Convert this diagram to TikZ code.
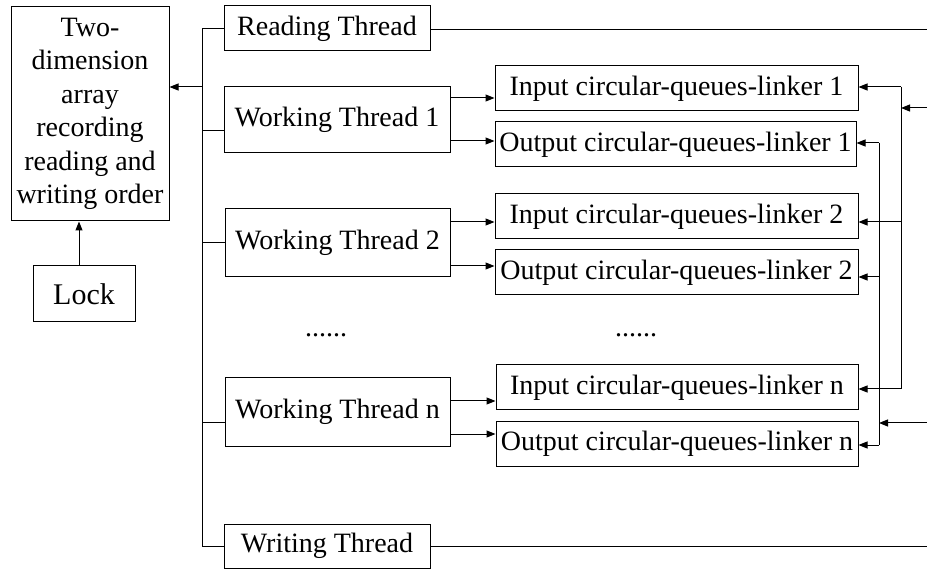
\documentclass[tikz,border=0pt]{standalone}
\usepackage{fontspec}
\setmainfont{Liberation Serif}
\usetikzlibrary{arrows.meta}
\begin{document}
\begin{tikzpicture}[x=1pt,y=-1pt,
  every node/.style={font=\fontsize{28}{33}\selectfont},
  box/.style={draw, line width=1pt, inner sep=0pt, align=center},
  wire/.style={line width=1pt},
  feed/.style={wire, -{Triangle[length=9pt,width=7pt]}}]
\useasboundingbox (0,0) rectangle (927,569);

% shared array and its lock
\node[box, minimum width=158pt, minimum height=214pt] (array) at (90,114)
  {\raisebox{-3pt}{\parbox{150pt}{\centering\fontsize{28}{33.5}\selectfont Two-\\dimension\\array\\recording\\reading and\\writing order}}};
\node[box, minimum width=102pt, minimum height=56pt, font=\fontsize{30}{33}\selectfont] (lock) at (84,294) {Lock};

% threads
\node[box, minimum width=206pt, minimum height=45pt] (read)  at (327,28.5) {Reading Thread};
\node[box, minimum width=226pt, minimum height=66pt] (wt1)   at (337,120)  {Working Thread 1};
\node[box, minimum width=225pt, minimum height=68pt] (wt2)   at (337.5,243) {Working Thread 2};
\node[box, minimum width=225pt, minimum height=68pt] (wtn)   at (337.5,412) {Working Thread n};
\node[box, minimum width=206pt, minimum height=44pt] (write) at (327,546)  {Writing Thread};

% circular queue linkers
\node[box, minimum width=363pt, minimum height=45pt] (in1)  at (676.5,88.5)  {Input circular-queues-linker 1};
\node[box, minimum width=361pt, minimum height=45pt] (out1) at (675.5,144.5) {Output circular-queues-linker 1};
\node[box, minimum width=363pt, minimum height=45pt] (in2)  at (676.5,216.5) {Input circular-queues-linker 2};
\node[box, minimum width=363pt, minimum height=45pt] (out2) at (676.5,272.5) {Output circular-queues-linker 2};
\node[box, minimum width=362pt, minimum height=45pt] (inn)  at (677,387.5)   {Input circular-queues-linker n};
\node[box, minimum width=362pt, minimum height=44pt] (outn) at (677,444)     {Output circular-queues-linker n};

% ellipses
\node[anchor=base] (dotsl) at (326,337) {......};
\node[anchor=base] (dotsr) at (636,337) {......};

% left bus
\coordinate (bus) at (202,0);
\coordinate (busarr) at (202,87);
\draw[wire] (read.west -| bus) -- (write.west -| bus);
\draw[wire] (read.west) -- (read.west -| bus);
\draw[wire] ([yshift=-11pt]wt1.west) -- ([yshift=-11pt]wt1.west -| bus);
\draw[wire] (wt2.west) -- (wt2.west -| bus);
\draw[wire] ([yshift=-11pt]wtn.west) -- ([yshift=-11pt]wtn.west -| bus);
\draw[wire] (write.west) -- (write.west -| bus);
\draw[feed] (busarr) -- (busarr -| array.east);
\draw[feed] ([xshift=-5pt]lock.north) -- ([xshift=-5pt]lock.north |- array.south);

% reading and writing lines to the right edge
\coordinate (rend) at (927,30);
\coordinate (wend) at (927,546);
\draw[wire] (read.east |- rend) -- (rend);
\draw[wire] (write.east) -- (wend);

% working threads to their linkers
\draw[feed] ([yshift=22pt]wt1.east) -- ([yshift=22pt]wt1.east -| in1.west);
\draw[feed] ([yshift=-21pt]wt1.east) -- ([yshift=-21pt]wt1.east -| out1.west);
\draw[feed] ([yshift=21pt]wt2.east) -- ([yshift=21pt]wt2.east -| in2.west);
\draw[feed] ([yshift=-23pt]wt2.east) -- ([yshift=-23pt]wt2.east -| out2.west);
\draw[feed] ([yshift=11pt]wtn.east) -- ([yshift=11pt]wtn.east -| inn.west);
\draw[feed] ([yshift=-22pt]wtn.east) -- ([yshift=-22pt]wtn.east -| outn.west);

% input feed on the right
\coordinate (ib1) at (901,87);
\coordinate (ib2) at (901,222);
\coordinate (ibn) at (901,389);
\coordinate (isrc) at (927,108);
\draw[wire] (ib1) -- (ibn);
\draw[feed] (isrc) -- (isrc -| ib1);
\draw[feed] (ib1) -- (ib1 -| in1.east);
\draw[feed] (ib2) -- (ib2 -| in2.east);
\draw[feed] (ibn) -- (ibn -| inn.east);

% output feed on the right
\coordinate (ob1) at (879,143);
\coordinate (ob2) at (879,277);
\coordinate (obn) at (879,445);
\coordinate (osrc) at (927,423);
\draw[wire] (ob1) -- (obn);
\draw[feed] (osrc) -- (osrc -| ob1);
\draw[feed] (ob1) -- (ob1 -| out1.east);
\draw[feed] (ob2) -- (ob2 -| out2.east);
\draw[feed] (obn) -- (obn -| outn.east);
\end{tikzpicture}
\end{document}
